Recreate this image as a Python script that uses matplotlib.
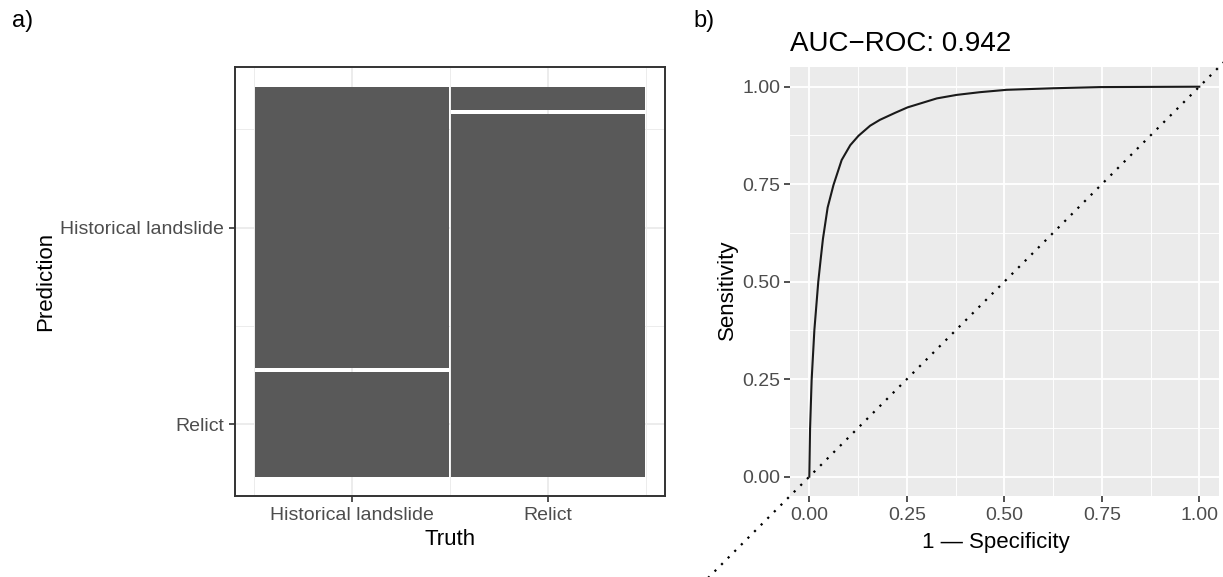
import matplotlib

matplotlib.use("Agg")
import matplotlib.pyplot as plt
import numpy as np
from matplotlib.patches import Rectangle

W, H = 1223, 577
TICK_TXT = "#4D4D4D"
TICK = "#333333"
FILL = "#595959"
GRID_BW = "#EBEBEB"
PANEL = "#EBEBEB"

plt.rcParams["font.family"] = ["Liberation Sans", "DejaVu Sans"]

# confusion matrix, one list per truth class: [predicted historical, predicted relict]
classes = ["Historical landslide", "Relict"]
truth_historical = [730, 270]
truth_relict = [61, 939]

# ROC curve (false positive rate, true positive rate)
roc_fpr = [0.0, 0.002, 0.006, 0.013, 0.023, 0.029, 0.035, 0.047, 0.062, 0.083,
           0.105, 0.126, 0.156, 0.181, 0.22, 0.252, 0.327, 0.378, 0.438, 0.506,
           0.625, 0.745, 1.0]
roc_tpr = [0.0, 0.124, 0.248, 0.376, 0.500, 0.556, 0.610, 0.690, 0.748, 0.812,
           0.850, 0.874, 0.900, 0.915, 0.933, 0.947, 0.970, 0.979, 0.986, 0.992,
           0.996, 0.999, 1.0]
auc_value = 0.942
roc_ticks = [0.0, 0.25, 0.5, 0.75, 1.0]


def px_rect(left, top, right, bottom):
    return [left / W, 1 - bottom / H, (right - left) / W, (bottom - top) / H]


def minor_breaks(b, lo, hi):
    # ggplot-style minor breaks: midpoints of the (extended) major breaks
    b = np.sort(np.asarray(b, dtype=float))
    d = b[1] - b[0]
    if lo < b[0]:
        b = np.r_[b[0] - d, b]
    if hi > b[-1]:
        b = np.r_[b, b[-1] + d]
    mids = (b[:-1] + b[1:]) / 2
    return mids[(mids >= lo) & (mids <= hi)]


def expand(lo, hi, mult=0.05):
    r = hi - lo
    return lo - mult * r, hi + mult * r


fig = plt.figure(figsize=(W / 100, H / 100), dpi=100)

# ---- a) mosaic of the confusion matrix
ax = fig.add_axes(px_rect(235, 67.3, 664.5, 496))
counts = np.array([truth_historical, truth_relict], dtype=float)
totals = counts.sum(axis=1)
n_all = totals.sum()
xgap = n_all / 200
offs = np.arange(len(totals))
xmax = np.cumsum(totals) + offs * xgap
xmin = np.r_[0, np.cumsum(totals)[:-1]] + offs * xgap

ybreaks = None
for j in range(len(totals)):
    p = counts[j] / totals[j]
    top = -(np.r_[0, np.cumsum(p)[:-1]] + offs * 0.01)
    bot = -(np.cumsum(p) + offs * 0.01)
    for i in range(len(p)):
        ax.add_patch(Rectangle((xmin[j], bot[i]), xmax[j] - xmin[j], top[i] - bot[i],
                               facecolor=FILL, edgecolor="none", zorder=2))
    if j == 0:
        ybreaks = (top + bot) / 2

xbreaks = (xmin + xmax) / 2
xlim = expand(xmin[0], xmax[-1])
ylim = expand(-(1 + 0.01 * (len(totals) - 1)), 0)
ax.set_xlim(*xlim)
ax.set_ylim(*ylim)
ax.set_xticks(xbreaks)
ax.set_xticklabels(classes)
ax.set_yticks(ybreaks)
ax.set_yticklabels(classes)
ax.set_xticks(minor_breaks(xbreaks, *xlim), minor=True)
ax.set_yticks(minor_breaks(ybreaks, *ylim), minor=True)
ax.grid(which="major", color=GRID_BW, linewidth=1.3, zorder=0)
ax.grid(which="minor", color=GRID_BW, linewidth=0.65, zorder=0)
ax.set_axisbelow(True)
ax.tick_params(which="minor", length=0)
ax.tick_params(which="major", length=4, width=1.2, color=TICK, labelcolor=TICK_TXT,
               labelsize=14, pad=3.8)
ax.tick_params(axis="x", pad=4)
for s in ax.spines.values():
    s.set_color(TICK)
    s.set_linewidth(1.4)
    s.set_zorder(3)
ax.set_xlabel("Truth", fontsize=16)
ax.xaxis.set_label_coords(0.5006, (496 - 545) / 428.7)
ax.xaxis.label.set_va("baseline")
ax.set_ylabel("Prediction", fontsize=16)
ax.yaxis.set_label_coords((51 - 235) / 429.5, 0.5)
ax.yaxis.label.set_va("baseline")

# ---- b) ROC curve
bx = fig.add_axes(px_rect(789.8, 67.2, 1218.8, 496.2))
bx.set_facecolor(PANEL)
lim = expand(0, 1)
bx.set_xlim(*lim)
bx.set_ylim(*lim)
bx.set_xticks(roc_ticks)
bx.set_yticks(roc_ticks)
bx.set_xticklabels([f"{t:.2f}" for t in roc_ticks])
bx.set_yticklabels([f"{t:.2f}" for t in roc_ticks])
bx.set_xticks(minor_breaks(roc_ticks, *lim), minor=True)
bx.set_yticks(minor_breaks(roc_ticks, *lim), minor=True)
bx.grid(which="major", color="white", linewidth=1.3)
bx.grid(which="minor", color="white", linewidth=0.65)
bx.set_axisbelow(True)
bx.tick_params(which="minor", length=0)
bx.tick_params(which="major", length=4, width=1.2, color=TICK, labelcolor=TICK_TXT,
               labelsize=14, pad=3)
bx.tick_params(axis="x", pad=4)
for s in bx.spines.values():
    s.set_visible(False)

diag = np.array([-0.5, 1.5])
bx.plot(diag, diag, color="black", linewidth=1.6, linestyle=(0, (1, 3.2)),
        clip_on=False, zorder=3)
bx.plot(roc_fpr, roc_tpr, color="#1a1a1a", linewidth=1.5, zorder=4,
        solid_joinstyle="round")

bx.set_title(f"AUC\u2212ROC: {auc_value:.3f}", loc="left", fontsize=20, pad=12)
bx.set_xlabel("1 \u2014 Specificity", fontsize=16)
bx.xaxis.set_label_coords((996 - 789.8) / 429, (496.2 - 548.3) / 429)
bx.xaxis.label.set_va("baseline")
bx.set_ylabel("Sensitivity", fontsize=16)
bx.yaxis.set_label_coords((733.3 - 789.8) / 429, (496.2 - 290) / 429)
bx.yaxis.label.set_va("baseline")

fig.text(12 / W, 1 - 26.7 / H, "a)", fontsize=17, va="baseline")
fig.text(693 / W, 1 - 26.7 / H, "b)", fontsize=17, va="baseline")

fig.savefig("out.png", dpi=100)
